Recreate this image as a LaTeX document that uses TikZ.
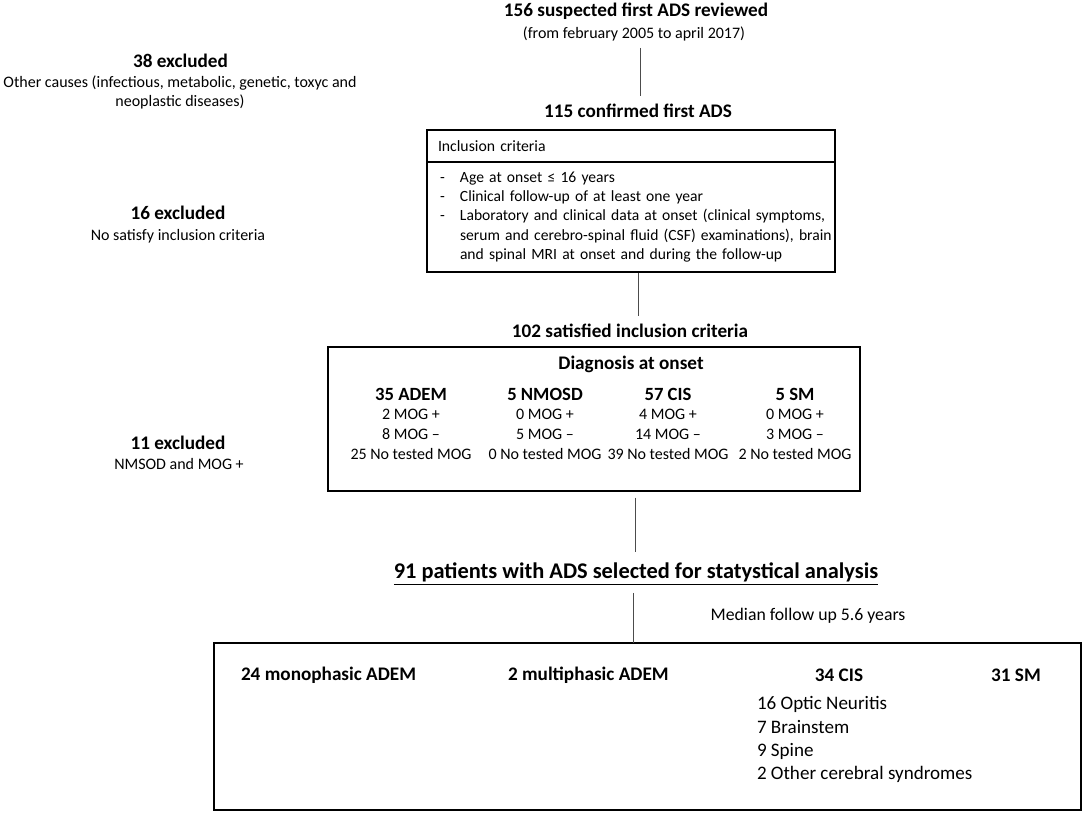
\documentclass[tikz,border=0pt]{standalone}
\usepackage{fontspec}
\setmainfont{Carlito}
\usetikzlibrary{calc}
\begin{document}
\begin{tikzpicture}[x=0.75pt,y=-0.75pt,
  every node/.style={inner sep=0pt, outer sep=0pt},
  hb/.style={font=\bfseries\fontsize{14.4}{17}\selectfont},
  sr/.style={font=\fontsize{12}{14}\selectfont},
  box/.style={draw=black, line width=1.1pt},
  conn/.style={draw=black!70, line width=0.7pt},
  dh/.style={font=\bfseries\fontsize{14}{16}\selectfont},
  dr/.style={font=\fontsize{12}{14}\selectfont},
  bl/.style={font=\fontsize{14.3}{17}\selectfont}
]
\useasboundingbox (0,0) rectangle (1084,815);

% top
\node[hb] (top) at (636,11) {156 suspected first ADS reviewed};
\node[sr] (topsub) at (634,34) {(from february 2005 to april 2017)};
\node[hb] (conf) at (638,111) {115 confirmed first ADS};

% exclusions
\node[hb] (ex1) at (180.5,61) {38 excluded};
\node[sr] (ex1a) at (180,83) {Other causes (infectious, metabolic, genetic, toxyc and};
\node[sr] (ex1b) at (180,102) {neoplastic diseases)};
\node[hb] (ex2) at (178,213) {16 excluded};
\node[sr] (ex2a) at (178,236) {No satisfy inclusion criteria};
\node[hb] (ex3) at (178,443) {11 excluded};
\node[sr] (ex3a) at (179,464) {NMSOD and MOG +};

% inclusion criteria box
\node[box, minimum width=306pt, minimum height=24pt, text width=289.5pt, inner xsep=8.25pt, align=left,
      font=\fontsize{11.8}{13}\selectfont] (inchead) at (631,146) {Inclusion criteria};
\node[box, minimum width=306pt, minimum height=82.5pt, text width=286.5pt, inner xsep=9.75pt, align=left,
      font=\fontsize{11.7}{14.5}\selectfont] (incbody) at (631,217) {%
  \begin{tabular}{@{}p{15pt}@{}l@{}}
  - & Age at onset ≤ 16 years\\
  - & Clinical follow-up of at least one year\\
  - & Laboratory and clinical data at onset (clinical symptoms,\\
    & serum and cerebro-spinal fluid (CSF) examinations), brain\\
    & and spinal MRI at onset and during the follow-up
  \end{tabular}};

\node[hb] (sat) at (630,331) {102 satisfied inclusion criteria};

% diagnosis box
\node[box, minimum width=399pt, minimum height=108pt] (diag) at (594,419) {};
\node[hb] (diagt) at (631,364) {Diagnosis at onset};
\foreach \x/\h/\a/\b/\c [count=\i] in {411/35 ADEM/2/8/25, 545/5 NMOSD/0/5/0, 668/57 CIS/4/14/39, 795/5 SM/0/3/2} {
  \node[dh] (dh\i) at (\x,394) {\h};
  \node[dr] (dp\i) at (\x,414) {\a{} MOG +};
  \node[dr] (dm\i) at (\x,434) {\b{} MOG –};
  \node[dr] (dn\i) at (\x,454) {\c{} No tested MOG};
}

% patients
\node[font=\bfseries\fontsize{16.8}{20}\selectfont] (pat) at (636,574) {\underline{91 patients with ADS selected for statystical analysis}};
\node[font=\fontsize{13.3}{16}\selectfont] (med) at (808,616) {Median follow up 5.6 years};

% bottom box
\node[box, minimum width=650.25pt, minimum height=125.25pt] (res) at (647.5,726.5) {};
\node[hb, anchor=west] (r1) at (241,675) {24 monophasic ADEM};
\node[hb, anchor=west] (r2) at (508,675) {2 multiphasic ADEM};
\node[hb] (r3) at (839,675) {34 CIS};
\node[hb] (r4) at (1016,675) {31 SM};
\node[bl, anchor=west] (c1) at (757,704) {16 Optic Neuritis};
\node[bl, anchor=west] (c2) at (757,727) {7 Brainstem};
\node[bl, anchor=west] (c3) at (757,751) {9 Spine};
\node[bl, anchor=west] (c4) at (757,774) {2 Other cerebral syndromes};

% connectors
\coordinate (x1) at (640,0);
\coordinate (x2) at (638,0);
\coordinate (x3) at (635,0);
\coordinate (x4) at (633,0);
\draw[conn, shorten <=5pt, shorten >=6pt] (x1 |- topsub.south) -- (x1 |- conf.north);
\draw[conn, shorten <=1pt, shorten >=6pt] (x2 |- incbody.south) -- (x2 |- sat.north);
\draw[conn, shorten <=5pt, shorten >=8pt] (x3 |- diag.south) -- (x3 |- pat.north);
\draw[conn, shorten <=6pt] (x4 |- pat.south) -- (x4 |- res.north);
\end{tikzpicture}
\end{document}
